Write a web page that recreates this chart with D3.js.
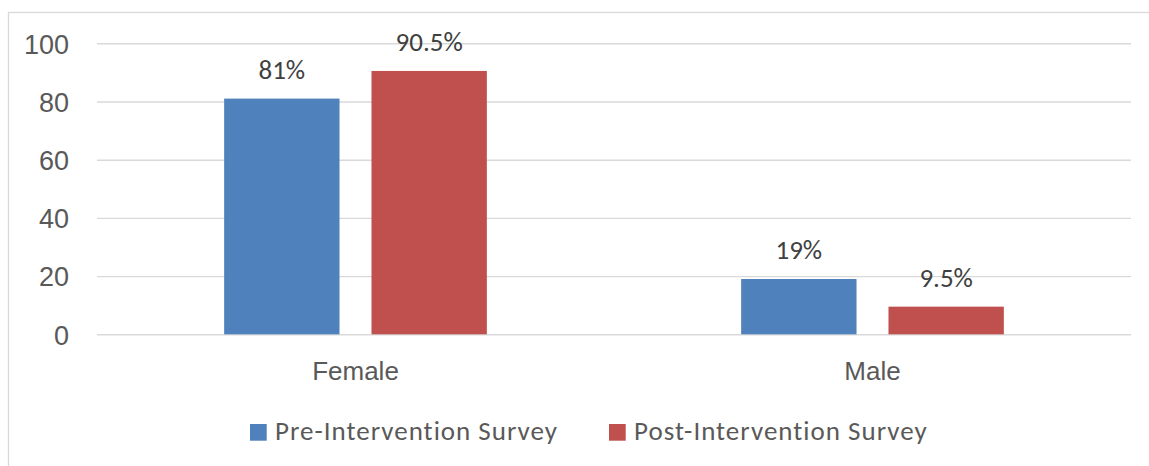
<!DOCTYPE html>
<html>
<head>
<meta charset="utf-8">
<script src="https://cdn.jsdelivr.net/npm/d3@7"></script>
<style>
  html, body { margin: 0; padding: 0; background: #fff; }
  svg { display: block; font-family: Calibri, Carlito, Lato, "Open Sans", sans-serif; }
</style>
</head>
<body>
<svg id="chart" width="1149" height="466"></svg>
<script>
// Share of respondents by gender, before and after the intervention
const categories = ["Female", "Male"];
const seriesNames = ["Pre-Intervention Survey", "Post-Intervention Survey"];
const preValues = [81, 19];
const postValues = [90.5, 9.5];
const valueLabels = [["81%", "19%"], ["90.5%", "9.5%"]];
const yTicks = [0, 20, 40, 60, 80, 100];
const colors = ["#4F81BD", "#C0504D"];

const svg = d3.select("#chart");
const plot = { left: 97, right: 1131, top: 43.3, bottom: 334.3 };

// chart frame
svg.append("rect")
  .attr("x", 8.5).attr("y", 12.5)
  .attr("width", 1200).attr("height", 600)
  .attr("fill", "#fff").attr("stroke", "#d9d9d9").attr("stroke-width", 1.3);

const y = d3.scaleLinear().domain([0, 100]).range([plot.bottom, plot.top]);
const x0 = d3.scaleBand().domain(categories).range([plot.left, plot.right]).padding(0);
const x1 = d3.scaleBand().domain(seriesNames).range([0, x0.bandwidth()])
  .paddingInner(0.217).paddingOuter(0.863);

// value axis with gridlines
const yAxis = svg.append("g")
  .attr("transform", `translate(${plot.left},0)`)
  .call(d3.axisLeft(y).tickValues(yTicks).tickSize(-(plot.right - plot.left)).tickPadding(28));
yAxis.select(".domain").remove();
yAxis.selectAll(".tick line").attr("stroke", "#d9d9d9").attr("stroke-width", 1.4);
yAxis.selectAll(".tick text")
  .attr("fill", "#595959").attr("font-size", 27).attr("dy", "0.36em")
  .style("font-family", "inherit");

// category axis
const xAxis = svg.append("g")
  .attr("transform", `translate(0,${plot.bottom})`)
  .call(d3.axisBottom(x0).tickSize(0).tickPadding(0));
xAxis.select(".domain").remove();
xAxis.selectAll(".tick text")
  .attr("y", 45.7).attr("dy", null)
  .attr("fill", "#595959").attr("font-size", 26)
  .style("font-family", "inherit");

// bars
const series = [preValues, postValues];
const rows = categories.map((c, i) => ({
  category: c,
  bars: seriesNames.map((s, j) => ({ series: s, value: series[j][i], label: valueLabels[j][i], color: colors[j] }))
}));

const groups = svg.append("g").selectAll("g")
  .data(rows).join("g")
  .attr("transform", d => `translate(${x0(d.category)},0)`);

groups.selectAll("rect")
  .data(d => d.bars).join("rect")
  .attr("x", d => x1(d.series))
  .attr("width", x1.bandwidth())
  .attr("y", d => y(d.value))
  .attr("height", d => y(0) - y(d.value))
  .attr("fill", d => d.color);

groups.selectAll("text")
  .data(d => d.bars).join("text")
  .attr("x", d => x1(d.series) + x1.bandwidth() / 2)
  .attr("y", d => y(d.value) - 20)
  .attr("text-anchor", "middle")
  .attr("fill", "#404040").attr("font-size", 27)
  .text(d => d.label);

// legend
const legendPos = [250, 609];
const legend = svg.append("g").selectAll("g")
  .data(seriesNames).join("g")
  .attr("transform", (d, i) => `translate(${legendPos[i]},424)`);
legend.append("rect").attr("width", 16.7).attr("height", 16.7).attr("fill", (d, i) => colors[i]);
legend.append("text")
  .attr("x", 25).attr("y", 16)
  .attr("fill", "#595959").attr("font-size", 27)
  .attr("letter-spacing", 1)
  .text(d => d);
</script>
</body>
</html>
